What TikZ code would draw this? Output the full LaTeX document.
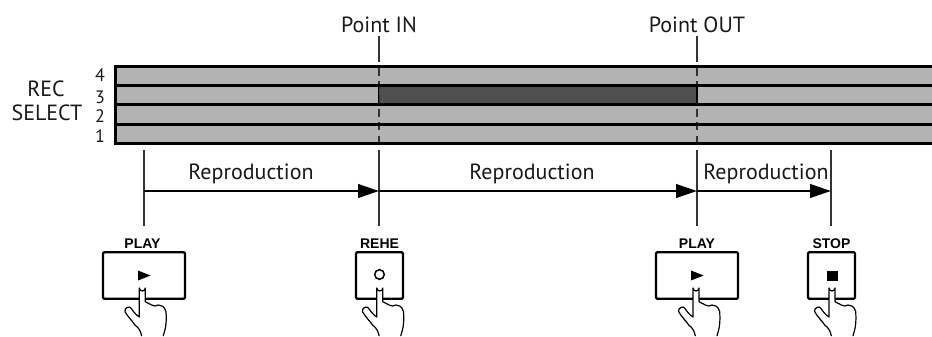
\documentclass[tikz,border=0pt]{standalone}
\usepackage{fontspec}
\setmainfont{PT Sans}
\newfontfamily\btnfont{Liberation Sans}
\usetikzlibrary{arrows.meta}
\definecolor{bandgray}{HTML}{B3B3B3}
\definecolor{darkband}{HTML}{505050}
\definecolor{markgray}{HTML}{333333}
\tikzset{
  x=1pt,y=1pt,
  lbl/.style={font=\fontsize{22}{24}\selectfont,inner sep=0pt,text=black!90},
  num/.style={font=\fontsize{18}{20}\selectfont,inner sep=0pt,text=black!90},
  btnlbl/.style={font=\btnfont\bfseries\fontsize{14}{16}\selectfont,inner sep=0pt},
  btn/.style={draw=black,line width=2.2pt,rounded corners=1.2pt,fill=white,inner sep=0pt,minimum height=46.5pt},
  vline/.style={draw=markgray,line width=1.3pt},
  dashline/.style={draw=markgray,line width=1.4pt,dash pattern=on 8pt off 5.5pt},
  sep/.style={draw=black,line width=3pt},
  flow/.style={draw=black,line width=2.6pt,-{Triangle[length=21pt,width=13.5pt,black]},shorten >=0pt},
  hand/.pic={
    \fill[white] (-3,3) arc[start angle=180,end angle=0,radius=3] -- (3,16.7) -- (21,21.7) -- (23.7,26.7) -- (23.7,38.3) -- (21,50.7) -- (-0.7,50.7) -- (-17.3,26.7) -- (-17.3,23.3) -- (-3,32) -- cycle;
    \draw[black,line width=1.2pt,line join=round,line cap=round]
      (-0.7,50.7) .. controls (-1.5,47) and (-3,43) .. (-7.3,40)
      .. controls (-10,36) and (-15,31) .. (-17.3,26.7)
      .. controls (-18,23) and (-14,21.5) .. (-12.3,22.3)
      .. controls (-10,24) and (-9,28) .. (-3,32)
      -- (-3,3) arc[start angle=180,end angle=0,radius=3]
      -- (3,16.7) .. controls (5,17) and (5,18.5) .. (6,18.3)
      .. controls (8,18) and (8,20.5) .. (9.3,20)
      .. controls (11,19.5) and (11,21.5) .. (12.7,21)
      .. controls (14,20) and (15,20) .. (16,20)
      .. controls (19,20) and (22,21) .. (23.7,26.7)
      .. controls (24,31) and (24,35) .. (23.7,38.3)
      .. controls (23.5,43) and (22,47) .. (21,50.7);
    \draw[black,line width=1.2pt] (-3,5.5) -- (3,5.5);
  }
}
\begin{document}
\begin{tikzpicture}
\useasboundingbox (0,0) rectangle (932,-337);
% bands
\fill[bandgray] (115,-67) rectangle (932,-143);
\fill[darkband] (379,-86) rectangle (697,-104.5);
% coordinates
\coordinate (tIN) at (379,-36);
\coordinate (mIN) at (379,-62);
\coordinate (dIN) at (379,-68);
\coordinate (bIN) at (379,-143.5);
\coordinate (tOUT) at (697,-36);
\coordinate (mOUT) at (697,-62);
\coordinate (dOUT) at (697,-68);
\coordinate (bOUT) at (697,-143.5);
\coordinate (s1) at (144,-150);
\coordinate (s2) at (379,-150);
\coordinate (s3) at (697,-150);
\coordinate (s4) at (831,-150);
\coordinate (a1) at (144,-191);
\coordinate (a2) at (379,-191);
\coordinate (a3) at (697,-191);
\coordinate (a4) at (831,-191);
% point markers
\draw[vline] (tIN) -- (mIN);
\draw[vline] (tOUT) -- (mOUT);
\draw[dashline] (dIN) -- (bIN);
\draw[dashline] (dOUT) -- (bOUT);
% separators
\draw[sep] (115,-67) -- (932,-67);
\draw[sep] (115,-86) -- (932,-86);
\draw[sep] (115,-104.5) -- (932,-104.5);
\draw[sep] (115,-124) -- (932,-124);
\draw[sep] (115,-143) -- (932,-143);
\draw[sep] (115,-65.5) -- (115,-144.5);
\draw[black,line width=1.5pt] (378.5,-85) -- (378.5,-105);
\draw[black,line width=2.6pt] (697,-85) -- (697,-105);
% labels
\node[lbl] (ptin) at (379,-24.5) {Point IN};
\node[lbl] (ptout) at (697,-24.5) {Point OUT};
\node[lbl] (rec) at (46,-89) {REC};
\node[lbl] (select) at (47,-113) {SELECT};
\node[num] (n4) at (100,-75.5) {4};
\node[num] (n3) at (100,-97.5) {3};
\node[num] (n2) at (100,-116.5) {2};
\node[num] (n1) at (100,-136) {1};
\node[lbl] (r1) at (251,-174) {Reproduction};
\node[lbl] (r2) at (532,-174) {Reproduction};
\node[lbl] (r3) at (766,-174) {Reproduction};
% buttons
\node[btn,minimum width=82pt] (bplay1) at (144,-275.5) {};
\node[btn,minimum width=47pt] (brehe) at (379.5,-275.5) {};
\node[btn,minimum width=82pt] (bplay2) at (697,-275.5) {};
\node[btn,minimum width=47pt] (bstop) at (831.5,-275.5) {};
\node[btnlbl,above=0pt] (lp1) at (142.5,-248.5) {PLAY};
\node[btnlbl,above=0pt] (lr) at (379.5,-248.5) {REHE};
\node[btnlbl,above=0pt] (lp2) at (697,-248.5) {PLAY};
\node[btnlbl,above=0pt] (ls) at (831.5,-248.5) {STOP};
% vertical connectors
\coordinate (e1) at (144,-225.5);
\coordinate (e2) at (379,-225.5);
\coordinate (e3) at (697,-225.5);
\coordinate (e4) at (831,-225.5);
\draw[vline] (s1) -- (e1);
\draw[vline] (s2) -- (e2);
\draw[vline] (s3) -- (e3);
\draw[vline] (s4) -- (e4);
% arrows
\draw[flow] (a1) -- (a2);
\draw[flow] (a2) -- (a3);
\draw[flow] (a3) -- (a4);
% symbols
\fill[black] (138,-270.5) -- (150.5,-275.5) -- (138,-280.5) -- cycle;
\fill[black] (691,-270.5) -- (703.5,-275.5) -- (691,-280.5) -- cycle;
\draw[black,line width=1.5pt] (379.5,-274.5) circle[radius=4.8];
\fill[black] (827,-271) rectangle (838,-280.5);
% hands
\pic at (142.3,-285) [yscale=-1] {hand};
\pic at (379.8,-285) [yscale=-1] {hand};
\pic at (696,-285) [yscale=-1] {hand};
\pic at (832,-285) [yscale=-1] {hand};
\end{tikzpicture}
\end{document}
